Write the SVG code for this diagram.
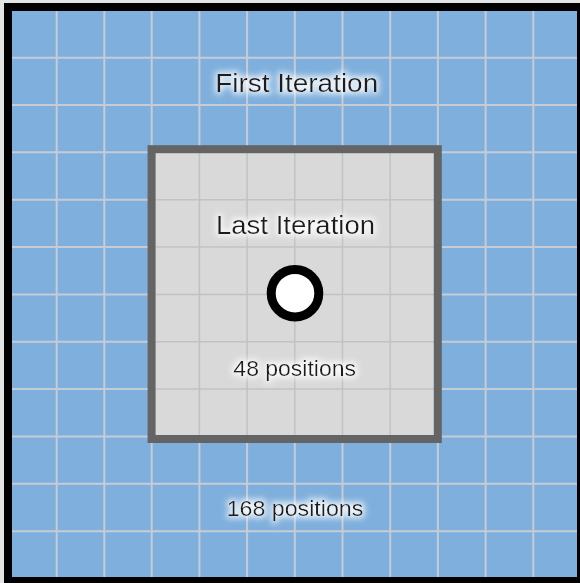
<svg xmlns="http://www.w3.org/2000/svg" width="580" height="583" viewBox="0 0 580 583">
  <defs>
    <style>
      .outer-grid line { stroke: #c6ccd6; stroke-width: 2; }
      .inner-grid line { stroke: #c2c2c2; stroke-width: 1.5; }
      .lbl { font-family: "Liberation Sans", Arial, sans-serif; fill: #1a1a1a; text-anchor: middle; }
    </style>
    <filter id="glow" x="-20%" y="-50%" width="140%" height="200%">
      <feMorphology in="SourceAlpha" operator="dilate" radius="2" result="d"/>
      <feGaussianBlur in="d" stdDeviation="3" result="b"/>
      <feFlood flood-color="#ffffff" flood-opacity="0.85"/>
      <feComposite in2="b" operator="in" result="g"/>
      <feMerge>
        <feMergeNode in="g"/>
        <feMergeNode in="SourceGraphic"/>
      </feMerge>
    </filter>
  </defs>

  <rect x="0" y="0" width="580" height="583" fill="#e4e4e4"/>

  <g id="outer-area">
    <rect x="8" y="7" width="573" height="574" fill="#7fafdc"/>
    <g class="outer-grid">
      <line x1="56.7" y1="7" x2="56.7" y2="581"/>
      <line x1="104.3" y1="7" x2="104.3" y2="581"/>
      <line x1="151.7" y1="7" x2="151.7" y2="581"/>
      <line x1="199.4" y1="7" x2="199.4" y2="581"/>
      <line x1="247.1" y1="7" x2="247.1" y2="581"/>
      <line x1="294.8" y1="7" x2="294.8" y2="581"/>
      <line x1="342.5" y1="7" x2="342.5" y2="581"/>
      <line x1="390.2" y1="7" x2="390.2" y2="581"/>
      <line x1="437.9" y1="7" x2="437.9" y2="581"/>
      <line x1="485.6" y1="7" x2="485.6" y2="581"/>
      <line x1="533.3" y1="7" x2="533.3" y2="581"/>
      <line x1="8" y1="57.7" x2="581" y2="57.7"/>
      <line x1="8" y1="105" x2="581" y2="105"/>
      <line x1="8" y1="152.3" x2="581" y2="152.3"/>
      <line x1="8" y1="199.7" x2="581" y2="199.7"/>
      <line x1="8" y1="247" x2="581" y2="247"/>
      <line x1="8" y1="294.4" x2="581" y2="294.4"/>
      <line x1="8" y1="341.8" x2="581" y2="341.8"/>
      <line x1="8" y1="389.1" x2="581" y2="389.1"/>
      <line x1="8" y1="436.5" x2="581" y2="436.5"/>
      <line x1="8" y1="483.8" x2="581" y2="483.8"/>
      <line x1="8" y1="531.2" x2="581" y2="531.2"/>
    </g>
    <rect x="8" y="7" width="573" height="574" fill="none" stroke="#000000" stroke-width="8"/>
    <text class="lbl" x="296.7" y="91.7" font-size="26.5" textLength="163" lengthAdjust="spacingAndGlyphs" filter="url(#glow)">First Iteration</text>
    <text class="lbl" x="295" y="516" font-size="22" textLength="136.7" lengthAdjust="spacingAndGlyphs" filter="url(#glow)">168 positions</text>
  </g>

  <g id="inner-area">
    <rect x="151.6" y="149.2" width="286.2" height="289.8" fill="#d9d9d9"/>
    <g class="inner-grid">
      <line x1="199.4" y1="149.2" x2="199.4" y2="439"/>
      <line x1="247.1" y1="149.2" x2="247.1" y2="439"/>
      <line x1="294.8" y1="149.2" x2="294.8" y2="439"/>
      <line x1="342.5" y1="149.2" x2="342.5" y2="439"/>
      <line x1="390.2" y1="149.2" x2="390.2" y2="439"/>
      <line x1="151.6" y1="199.7" x2="437.8" y2="199.7"/>
      <line x1="151.6" y1="247" x2="437.8" y2="247"/>
      <line x1="151.6" y1="294.4" x2="437.8" y2="294.4"/>
      <line x1="151.6" y1="341.8" x2="437.8" y2="341.8"/>
      <line x1="151.6" y1="389.1" x2="437.8" y2="389.1"/>
    </g>
    <rect x="151.6" y="149.2" width="286.2" height="289.8" fill="none" stroke="#646464" stroke-width="8"/>
    <text class="lbl" x="295.5" y="234.3" font-size="25" textLength="159" lengthAdjust="spacingAndGlyphs" filter="url(#glow)">Last Iteration</text>
    <text class="lbl" x="294.7" y="376" font-size="21.3" textLength="122.7" lengthAdjust="spacingAndGlyphs" filter="url(#glow)">48 positions</text>
  </g>

  <g id="center-point">
    <circle cx="295" cy="293.2" r="23.8" fill="#ffffff" stroke="#000000" stroke-width="9"/>
  </g>
</svg>
